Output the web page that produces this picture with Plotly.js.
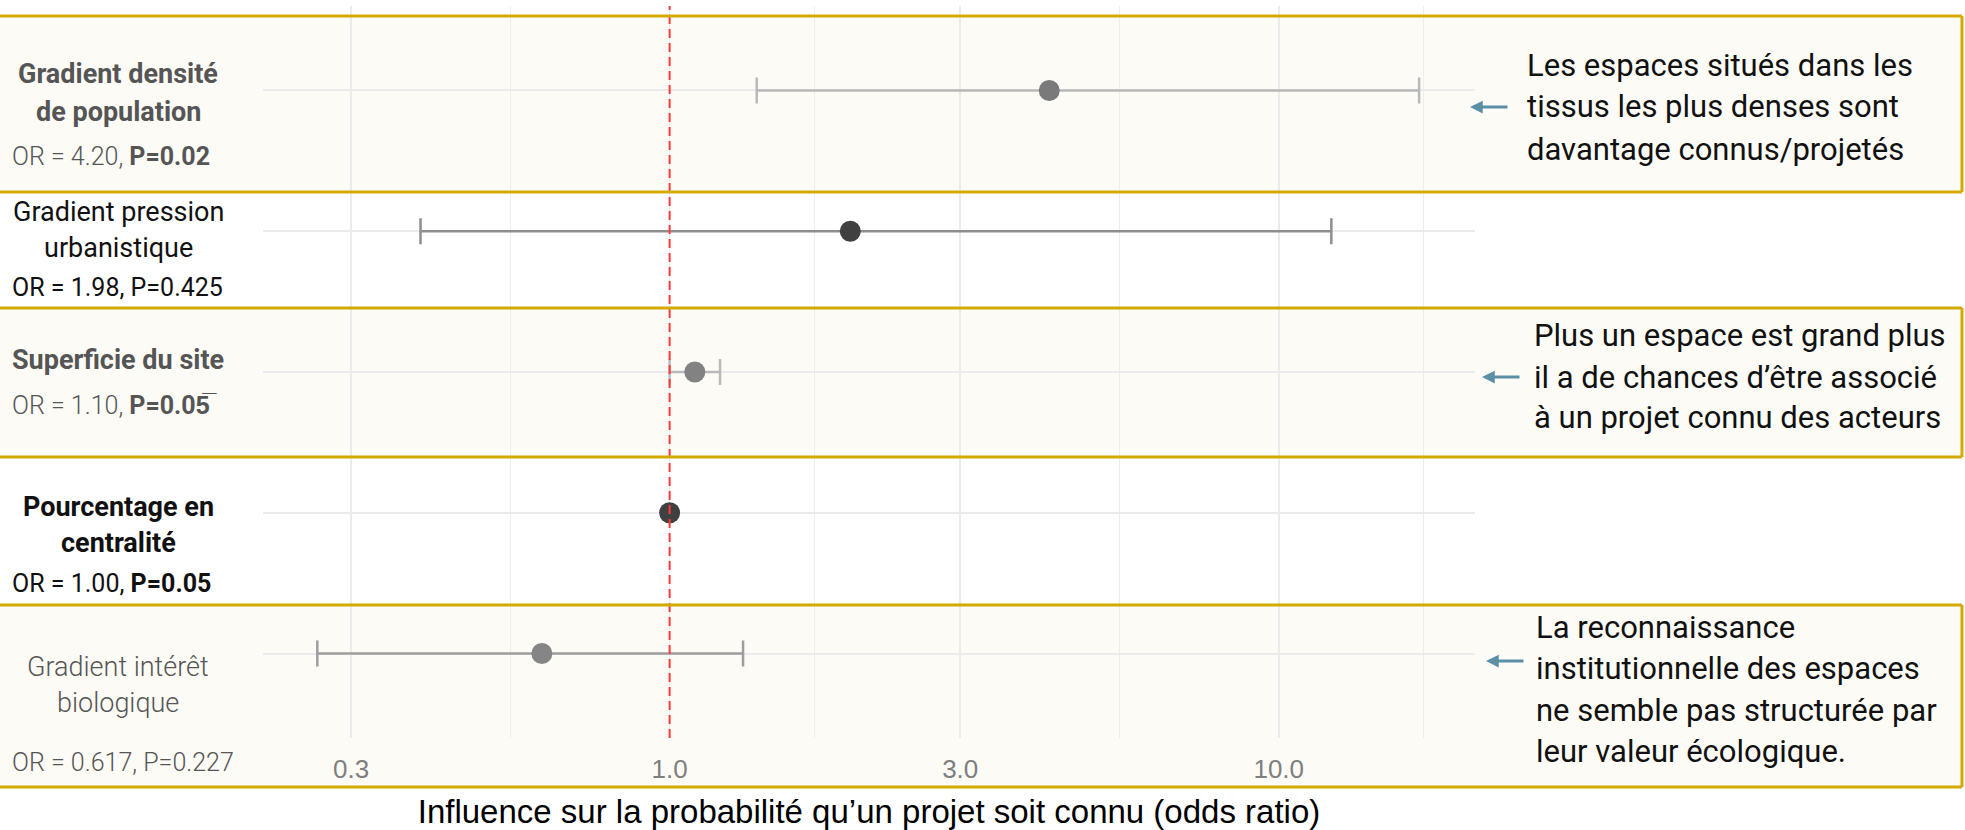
<!DOCTYPE html>
<html>
<head>
<meta charset="utf-8">
<script src="https://cdn.plot.ly/plotly-3.0.1.min.js"></script>
<style>
html, body { margin: 0; padding: 0; background: #ffffff; }
#chart { width: 1965px; height: 830px; }
</style>
</head>
<body>
<div id="chart"></div>
<script>
// ---------------- DATA ----------------
const categories = [
  "Gradient densité de population",
  "Gradient pression urbanistique",
  "Superficie du site",
  "Pourcentage en centralité",
  "Gradient intérêt biologique"
];
const oddsRatio = [4.20, 1.98, 1.10, 1.00, 0.617];
const ciLow     = [1.39, 0.39, 1.00, 1.00, 0.264];
const ciHigh    = [17.0, 12.2, 1.21, 1.00, 1.32];
const orLabels  = ["4.20", "1.98", "1.10", "1.00", "0.617"];
const pLabels   = ["0.02", "0.425", "0.05\u0305", "0.05", "0.227"];
const labelLines = [
  ["Gradient densité", "de population"],
  ["Gradient pression", "urbanistique"],
  ["Superficie du site"],
  ["Pourcentage en", "centralité"],
  ["Gradient intérêt", "biologique"]
];
const tickValues = [0.3, 1, 3, 10];
const tickLabels = ["0.3", "1.0", "3.0", "10.0"];
const minorTickValues = [0.548, 1.73, 5.48, 17.3];
const referenceOR = 1;
const notes = [
  ["Les espaces situés dans les", "tissus les plus denses sont", "davantage connus/projetés"],
  ["Plus un espace est grand plus", "il a de chances d’être associé", "à un projet connu des acteurs"],
  ["La reconnaissance", "institutionnelle des espaces", "ne semble pas structurée par", "leur valeur écologique."]
];
const xTitle = "Influence sur la probabilité qu’un projet soit connu (odds ratio)";

// ---------------- GEOMETRY / STYLE ----------------
const W = 1965, H = 830;
const M = { l: 263, r: 490, t: 6, b: 92 };
const PW = W - M.l - M.r, PH = H - M.t - M.b;
const px = x => (x - M.l) / PW;
const py = y => (H - M.b - y) / PH;

const rowStyle = [
  { marker: '#7a7a7a', bar: '#b9b9b9', text: '#555555', titleW: 700, statW: 300, pBold: true,  titleY: [74, 112], statY: 157 },
  { marker: '#404040', bar: '#8f8f8f', text: '#111111', titleW: 400, statW: 400, pBold: false, titleY: [212, 248], statY: 287 },
  { marker: '#828282', bar: '#b9b9b9', text: '#555555', titleW: 700, statW: 300, pBold: true,  titleY: [360], statY: 405 },
  { marker: '#404040', bar: '#8f8f8f', text: '#111111', titleW: 700, statW: 400, pBold: true,  titleY: [507, 543], statY: 583 },
  { marker: '#858585', bar: '#9e9e9e', text: '#555555', titleW: 300, statW: 300, pBold: false, titleY: [667, 703], statY: 762 }
];
const bands = [[16, 192], [308, 457], [605, 787]];
const BAND_RIGHT = 1962;
const noteStyle = [
  { x: 1525, y: [65, 107, 149], arrow: [1470, 1509, 107] },
  { x: 1532, y: [336, 377, 418], arrow: [1482, 1521, 377] },
  { x: 1534, y: [627, 668, 710, 752], arrow: [1486, 1525, 661] }
];
const GOLD = '#d4aa00', CREAM = '#fcfbf6', ARROW = '#5b8fa6';

// ---------------- TRACES ----------------
const traces = categories.map((c, i) => ({
  type: 'scatter',
  mode: 'markers',
  name: c,
  x: [oddsRatio[i]],
  y: [c],
  marker: { size: 21, color: rowStyle[i].marker, line: { width: 0 } },
  error_x: {
    type: 'data', symmetric: false,
    array: [ciHigh[i] - oddsRatio[i]],
    arrayminus: [oddsRatio[i] - ciLow[i]],
    color: rowStyle[i].bar, thickness: 2.5, width: 13,
    visible: ciHigh[i] > ciLow[i]
  },
  showlegend: false,
  cliponaxis: false
}));

// ---------------- SHAPES ----------------
const shapes = [];
bands.forEach(b => {
  shapes.push({ type: 'rect', xref: 'paper', yref: 'paper', layer: 'below',
    x0: px(0), x1: px(BAND_RIGHT), y0: py(b[1]), y1: py(b[0]),
    fillcolor: CREAM, line: { width: 0 } });
});
shapes.push({ type: 'line', xref: 'x', yref: 'paper', layer: 'above',
  x0: referenceOR, x1: referenceOR, y0: 0, y1: 1,
  line: { color: '#ff3838', width: 2, dash: '9px,5px' } });
bands.forEach(b => {
  [b[0], b[1]].forEach(yy => {
    shapes.push({ type: 'line', xref: 'paper', yref: 'paper', layer: 'above',
      x0: px(0), x1: px(BAND_RIGHT), y0: py(yy), y1: py(yy),
      line: { color: GOLD, width: 3 } });
  });
  shapes.push({ type: 'line', xref: 'paper', yref: 'paper', layer: 'above',
    x0: px(BAND_RIGHT), x1: px(BAND_RIGHT), y0: py(b[1]), y1: py(b[0]),
    line: { color: GOLD, width: 3 } });
});

// ---------------- ANNOTATIONS ----------------
const annotations = [];
labelLines.forEach((lines, i) => {
  const s = rowStyle[i];
  lines.forEach((t, k) => {
    annotations.push({ xref: 'paper', yref: 'paper', x: px(118), y: py(s.titleY[k]),
      xanchor: 'center', yanchor: 'middle', showarrow: false, text: t,
      font: { family: 'Roboto, sans-serif', size: 27, color: s.text, weight: s.titleW } });
  });
  const pPart = 'P=' + pLabels[i];
  annotations.push({ xref: 'paper', yref: 'paper', x: px(10), y: py(s.statY),
    xanchor: 'left', yanchor: 'middle', showarrow: false,
    text: 'OR = ' + orLabels[i] + ', ' + (s.pBold ? '<b>' + pPart + '</b>' : pPart),
    font: { family: 'Roboto, sans-serif', size: 25, color: s.text, weight: s.statW } });
});
notes.forEach((lines, j) => {
  const ns = noteStyle[j];
  lines.forEach((t, k) => {
    annotations.push({ xref: 'paper', yref: 'paper', x: px(ns.x), y: py(ns.y[k]),
      xanchor: 'left', yanchor: 'middle', showarrow: false, text: t,
      font: { family: 'Roboto, sans-serif', size: 31, color: '#111111' } });
  });
  annotations.push({ xref: 'paper', yref: 'paper', x: px(ns.arrow[0]), y: py(ns.arrow[2]),
    text: '', showarrow: true, axref: 'pixel', ayref: 'pixel',
    ax: ns.arrow[1] - ns.arrow[0], ay: 0,
    arrowhead: 2, arrowsize: 0.85, arrowwidth: 3, arrowcolor: ARROW });
});

// ---------------- LAYOUT ----------------
const layout = {
  width: W, height: H,
  margin: M,
  paper_bgcolor: '#ffffff',
  plot_bgcolor: 'rgba(0,0,0,0)',
  showlegend: false,
  xaxis: {
    type: 'log',
    range: [Math.log10(0.215), Math.log10(21.0)],
    tickmode: 'array', tickvals: tickValues, ticktext: tickLabels,
    ticks: '', ticklabelstandoff: 13,
    tickfont: { family: 'Liberation Sans, Arial, sans-serif', size: 26, color: '#7f7f7f' },
    showgrid: true, gridcolor: '#ebebeb', gridwidth: 1.6,
    minor: { tickmode: 'array', tickvals: minorTickValues, showgrid: true, gridcolor: '#ededed', gridwidth: 1.4, ticks: '' },
    zeroline: false, showline: false,
    title: { text: xTitle, standoff: 19,
      font: { family: 'Liberation Sans, Arial, sans-serif', size: 33, color: '#000000' } }
  },
  yaxis: {
    type: 'category',
    categoryorder: 'array', categoryarray: categories,
    range: [4.6, -0.6],
    showticklabels: false, ticks: '',
    showgrid: true, gridcolor: '#ebebeb', gridwidth: 2,
    zeroline: false, showline: false
  },
  shapes: shapes,
  annotations: annotations
};

Plotly.newPlot('chart', traces, layout, { displayModeBar: false, staticPlot: true });
</script>
</body>
</html>
